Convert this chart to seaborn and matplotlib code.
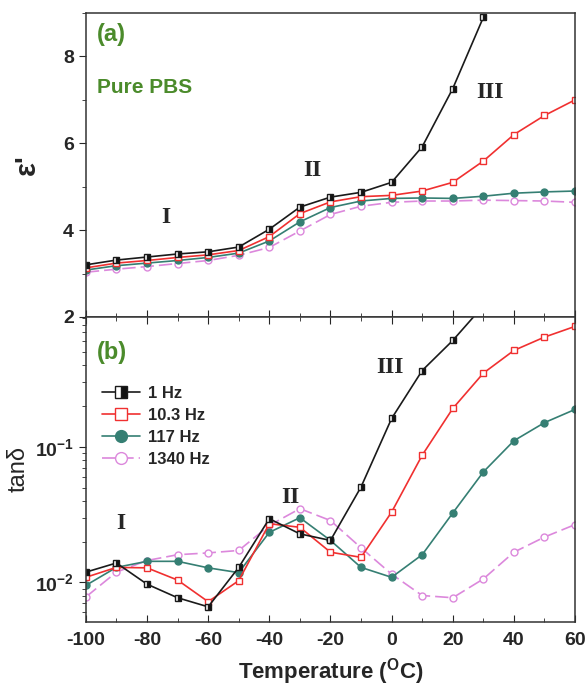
import numpy as np
import pandas as pd
import matplotlib
matplotlib.use("Agg")
import matplotlib.pyplot as plt
import matplotlib.ticker as mticker
import seaborn as sns

# Temperatures (deg C) of the frequency sweeps
temp = [-100, -90, -80, -70, -60, -50, -40, -30, -20, -10, 0, 10, 20, 30, 40, 50, 60]
temp_1hz = temp[:14]  # 1 Hz run leaves the plotted range after 30 C

freq_labels = ["1 Hz", "10.3 Hz", "117 Hz", "1340 Hz"]

# Dielectric constant (real permittivity)
eps_1hz = [3.20, 3.31, 3.38, 3.45, 3.50, 3.61, 4.02, 4.53, 4.76, 4.87, 5.10, 5.92, 7.26, 8.90]
eps_10hz = [3.13, 3.24, 3.30, 3.37, 3.43, 3.53, 3.85, 4.38, 4.65, 4.77, 4.80, 4.90, 5.10, 5.59, 6.20, 6.64, 7.00]
eps_117hz = [3.08, 3.18, 3.24, 3.30, 3.37, 3.47, 3.75, 4.19, 4.52, 4.67, 4.73, 4.74, 4.73, 4.78, 4.85, 4.88, 4.90]
eps_1340hz = [3.03, 3.10, 3.16, 3.23, 3.30, 3.42, 3.60, 3.98, 4.36, 4.55, 4.64, 4.67, 4.67, 4.69, 4.68, 4.67, 4.64]

# Loss tangent
tan_1hz = [0.0119, 0.0139, 0.0097, 0.0077, 0.0066, 0.0129, 0.0295, 0.0228, 0.0204, 0.0506, 0.162, 0.366, 0.61, 1.10]
tan_10hz = [0.0109, 0.0129, 0.0128, 0.0104, 0.0072, 0.0103, 0.0271, 0.0255, 0.0167, 0.0153, 0.033, 0.0868, 0.192, 0.35, 0.515, 0.646, 0.775]
tan_117hz = [0.0095, 0.0129, 0.0143, 0.0143, 0.0128, 0.0118, 0.0234, 0.030, 0.0204, 0.0129, 0.0109, 0.016, 0.0325, 0.0653, 0.111, 0.151, 0.189]
tan_1340hz = [0.0078, 0.0119, 0.0145, 0.0160, 0.0165, 0.0172, 0.0263, 0.035, 0.0286, 0.018, 0.0115, 0.0080, 0.0077, 0.0106, 0.0167, 0.0216, 0.0267]

sns.set_style("ticks")
plt.rcParams["font.family"] = ["Liberation Sans", "DejaVu Sans"]
plt.rcParams["mathtext.fontset"] = "custom"
plt.rcParams["mathtext.rm"] = "Liberation Sans"
plt.rcParams["mathtext.bf"] = "Liberation Sans:bold"
plt.rcParams["axes.unicode_minus"] = False
plt.rcParams["axes.linewidth"] = 1.1

GREEN = "#4b8b2b"
styles = {
    "1 Hz": dict(color="#1a1a1a", marker="s", markerfacecolor="#111111",
                 markerfacecoloralt="white", fillstyle="right",
                 markeredgecolor="#1a1a1a", linestyle="-"),
    "10.3 Hz": dict(color="#f03030", marker="s", markerfacecolor="white",
                    markeredgecolor="#f03030", linestyle="-"),
    "117 Hz": dict(color="#357f73", marker="o", markerfacecolor="#357f73",
                   markeredgecolor="#357f73", linestyle="-"),
    "1340 Hz": dict(color="#dc88dc", marker="o", markerfacecolor="white",
                    markeredgecolor="#dc88dc", linestyle=(0, (8, 3))),
}

def frame(xs, ys, label):
    return pd.DataFrame({"T": xs, "v": ys, "freq": label})

eps_df = pd.concat([
    frame(temp_1hz, eps_1hz, freq_labels[0]),
    frame(temp, eps_10hz, freq_labels[1]),
    frame(temp, eps_117hz, freq_labels[2]),
    frame(temp, eps_1340hz, freq_labels[3]),
])
tan_df = pd.concat([
    frame(temp_1hz, tan_1hz, freq_labels[0]),
    frame(temp, tan_10hz, freq_labels[1]),
    frame(temp, tan_117hz, freq_labels[2]),
    frame(temp, tan_1340hz, freq_labels[3]),
])

fig = plt.figure(figsize=(5.88, 6.86), dpi=100)
ax1 = fig.add_axes([0.146, 0.538, 0.832, 0.443])
ax2 = fig.add_axes([0.146, 0.0933, 0.832, 0.4447])

for ax, df in ((ax1, eps_df), (ax2, tan_df)):
    for lab in freq_labels[::-1]:
        sub = df[df["freq"] == lab]
        sns.lineplot(data=sub, x="T", y="v", ax=ax, label=lab, sort=True,
                     linewidth=1.2, markersize=5, markeredgewidth=1.0,
                     estimator=None, **styles[lab])

roman = dict(fontsize=17, fontweight="bold", family="Liberation Serif",
             ha="center", va="center")

# Panel (a): permittivity
ax1.set_xlim(-100, 60)
ax1.set_ylim(2, 9.0)
ax1.set_yticks([2, 4, 6, 8])
ax1.yaxis.set_minor_locator(mticker.MultipleLocator(1))
ax1.xaxis.set_major_locator(mticker.MultipleLocator(20))
ax1.xaxis.set_minor_locator(mticker.MultipleLocator(10))
ax1.tick_params(axis="x", which="both", direction="in", labelbottom=False)
ax1.tick_params(axis="x", which="major", length=5)
ax1.tick_params(axis="x", which="minor", length=3)
ax1.tick_params(axis="y", which="major", direction="out", length=5, labelsize=14)
ax1.tick_params(axis="y", which="minor", direction="out", length=3)
ax1.set_xlabel("")
ax1.set_ylabel("ε'", fontsize=21, fontweight="bold", labelpad=16)
ax1.get_legend().remove()
for lbl in ax1.get_yticklabels():
    lbl.set_fontweight("bold")

ax1.text(0.022, 0.93, "(a)", transform=ax1.transAxes, color=GREEN,
         fontsize=17, fontweight="bold", va="center", ha="left")
ax1.text(0.022, 0.755, "Pure PBS", transform=ax1.transAxes, color=GREEN,
         fontsize=15, fontweight="bold", va="center", ha="left")
ax1.text(-74, 4.28, "I", **roman)
ax1.text(-26, 5.38, "II", **roman)
ax1.text(32, 7.17, "III", **roman)

# Panel (b): loss tangent
ax2.set_yscale("log")
ax2.set_xlim(-100, 60)
ax2.set_ylim(0.0051, 0.91)
ax2.yaxis.set_major_locator(mticker.LogLocator(base=10, numticks=10))
ax2.yaxis.set_major_formatter(mticker.FuncFormatter(
    lambda v, pos: r"$\mathbf{10^{%d}}$" % int(round(np.log10(v)))))
ax2.yaxis.set_minor_locator(mticker.LogLocator(base=10, subs=np.arange(2, 10), numticks=10))
ax2.yaxis.set_minor_formatter(mticker.NullFormatter())
ax2.xaxis.set_major_locator(mticker.MultipleLocator(20))
ax2.xaxis.set_minor_locator(mticker.MultipleLocator(10))
ax2.tick_params(axis="x", which="both", direction="in", top=True, labelsize=14, pad=7)
ax2.tick_params(axis="x", which="major", length=5)
ax2.tick_params(axis="x", which="minor", length=3)
ax2.tick_params(axis="y", which="major", direction="out", length=5, labelsize=14)
ax2.tick_params(axis="y", which="minor", direction="out", length=3)
for lbl in ax2.get_xticklabels() + ax2.get_yticklabels():
    lbl.set_fontweight("bold")
ax2.set_xlabel(r"Temperature ($\mathbf{^{O}C}$)", fontsize=16, fontweight="bold", labelpad=5)
ax2.set_ylabel("tanδ", fontsize=17, labelpad=4)

ax2.text(0.022, 0.885, "(b)", transform=ax2.transAxes, color=GREEN,
         fontsize=17, fontweight="bold", va="center", ha="left")
ax2.text(-88.5, 0.0272, "I", **roman)
ax2.text(-33, 0.0423, "II", **roman)
ax2.text(-0.5, 0.383, "III", **roman)

handles, labels = ax2.get_legend_handles_labels()
order = [labels.index(l) for l in freq_labels]
leg = ax2.legend([handles[i] for i in order], [labels[i] for i in order],
                 loc="upper left", bbox_to_anchor=(0.033, 0.775), frameon=False,
                 borderpad=0, borderaxespad=0, handlelength=2.3, handletextpad=0.45,
                 labelspacing=0.42, markerscale=1.7,
                 prop={"size": 12, "weight": "bold"})

for ax in (ax1, ax2):
    for s in ax.spines.values():
        s.set_visible(True)
        s.set_color("#333333")

fig.savefig("out.png", dpi=100)
